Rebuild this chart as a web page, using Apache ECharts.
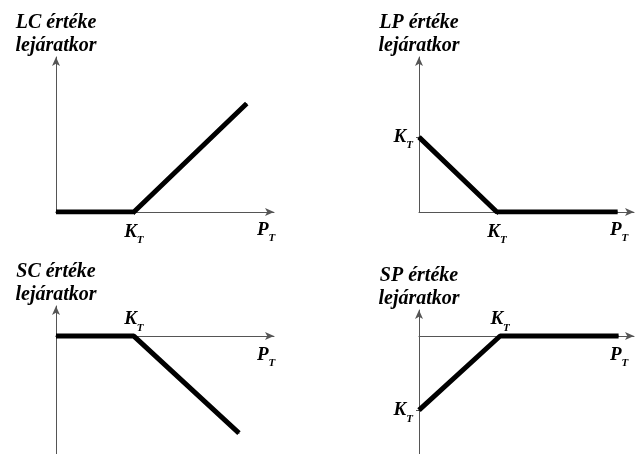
<!DOCTYPE html>
<html>
<head>
<meta charset="utf-8">
<script src="https://cdn.jsdelivr.net/npm/echarts@6/dist/echarts.min.js"></script>
<style>
  html, body { margin: 0; padding: 0; background: #fff; }
  #chart { width: 635px; height: 454px; }
</style>
</head>
<body>
<div id="chart"></div>
<script>
// kifizetési függvények, K_T = 1 egység
var lcData = [[0, 0], [1, 0], [2.45, 1.40]];
var lpData = [[0, 1], [1, 0], [2.55, 0]];
var scData = [[0, 0], [1, 0], [2.35, -1.26]];
var spData = [[0, -1], [1, 0], [2.46, 0]];
var titles = ['LC értéke\nlejáratkor', 'LP értéke\nlejáratkor', 'SC értéke\nlejáratkor', 'SP értéke\nlejáratkor'];
var strikeValue = [1];

var serif = 'Liberation Serif';
var kt = '{k|K}{t|T}';
var ktRich = {
    k: { fontSize: 19, fontWeight: 'bold', fontStyle: 'italic', fontFamily: serif, color: '#000', lineHeight: 20 },
    t: { fontSize: 11, fontWeight: 'bold', fontStyle: 'italic', fontFamily: serif, color: '#000', verticalAlign: 'bottom', lineHeight: 28 }
};
var ptName = '{k|P}{t|T}';

var grids = [
    { left: 56, top: 57, width: 218, height: 155 },
    { left: 419, top: 57, width: 215, height: 155 },
    { left: 56, top: 306, width: 218, height: 148 },
    { left: 419, top: 310, width: 215, height: 144 }
];
var xMax = [2.8, 2.76, 2.8, 2.65];
var yRange = [[0, 2.0], [0, 2.07], [-1.53, 0.39], [-1.59, 0.35]];
var yLabels = [[], [1], [], [-1]];
var ptGap = [-17, -24, -17, -24];
var seriesData = [lcData, lpData, scData, spData];

var mychart = echarts.init(document.getElementById('chart'));
var xAxis = [], yAxis = [], series = [];
for (var i = 0; i < 4; i++) {
    var below = i < 2;
    xAxis.push({
        type: 'value', gridIndex: i, min: 0, max: xMax[i],
        splitLine: { show: false },
        axisLine: { onZero: true, symbol: ['none', 'arrow'], symbolSize: [6, 9], lineStyle: { color: '#555', width: 1 } },
        axisTick: { show: below, customValues: strikeValue, length: 3, lineStyle: { color: '#555' } },
        axisLabel: { show: below, customValues: strikeValue, margin: 6, formatter: function () { return kt; }, rich: ktRich },
        name: ptName,
        nameLocation: 'end',
        nameGap: ptGap[i],
        nameTextStyle: { align: 'left', verticalAlign: 'top', padding: [below ? 4 : 5, 0, 0, 0], rich: ktRich }
    });
    yAxis.push({
        type: 'value', gridIndex: i, min: yRange[i][0], max: yRange[i][1],
        splitLine: { show: false },
        axisLine: { onZero: false, symbol: ['none', 'arrow'], symbolSize: [6, 9], lineStyle: { color: '#555', width: 1 } },
        axisTick: { show: yLabels[i].length > 0, customValues: yLabels[i], length: 3, lineStyle: { color: '#555' } },
        axisLabel: { show: yLabels[i].length > 0, customValues: yLabels[i], margin: 6, formatter: function () { return kt; }, rich: ktRich },
        name: titles[i],
        nameLocation: 'end',
        nameGap: 0,
        nameTextStyle: { fontSize: 20, fontWeight: 'bold', fontStyle: 'italic', fontFamily: serif, color: '#000', lineHeight: 23, align: 'center' }
    });
    // felső sorban a tengelyfelirat, alsó sorban a töréspont címkéje adja a K_T-t
    var pts = seriesData[i].map(function (p) {
        if (!below && p[0] === strikeValue[0] && p[1] === 0) {
            return { value: p, label: { show: true, position: 'top', distance: 2, formatter: kt, rich: ktRich } };
        }
        return p;
    });
    series.push({
        type: 'line', xAxisIndex: i, yAxisIndex: i, data: pts,
        symbol: 'circle', symbolSize: 1, showSymbol: true, silent: true,
        itemStyle: { color: '#000' },
        label: { show: false },
        lineStyle: { color: '#000', width: 5 }
    });
}

mychart.setOption({
    animation: false,
    grid: grids,
    xAxis: xAxis,
    yAxis: yAxis,
    series: series
});
</script>
</body>
</html>
